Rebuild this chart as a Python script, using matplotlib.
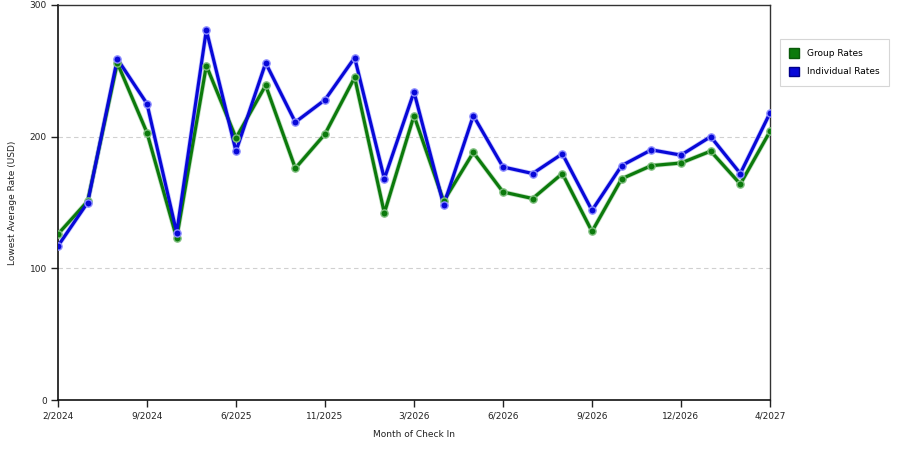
import numpy as np
import matplotlib
matplotlib.use('Agg')
import matplotlib.pyplot as plt
import matplotlib.patches as mpatches

# Lowest average rate per check-in month (USD)
group_rates = [126, 151, 256, 203, 123, 254, 199, 239, 176, 202, 245, 142, 216,
               151, 188, 158, 153, 172, 128, 168, 178, 180, 189, 164, 204]
individual_rates = [117, 150, 259, 225, 127, 281, 189, 256, 211, 228, 260, 168, 234,
                    148, 216, 177, 172, 187, 144, 178, 190, 186, 200, 172, 218]
tick_labels = ['2/2024', '9/2024', '6/2025', '11/2025', '3/2026',
               '6/2026', '9/2026', '12/2026', '4/2027']
tick_step = 3

plt.rcParams['font.family'] = ['DejaVu Sans']

fig = plt.figure(figsize=(9, 4.5), dpi=100)
ax = fig.add_axes([58 / 900, 50 / 450, 712 / 900, 395 / 450])

x = np.arange(len(group_rates))
green = '#0c7a0c'
blue = '#0808d8'

# lines drawn with a soft halo like the original renderer
for vals, col, halo in [(group_rates, green, '#7fbf7f'), (individual_rates, blue, '#8c8cff')]:
    ax.plot(x, vals, color=halo, linewidth=3.4, alpha=0.5, zorder=2, solid_capstyle='round')
    ax.plot(x, vals, color=col, linewidth=2.3, zorder=3, solid_joinstyle='round')
    ax.plot(x, vals, linestyle='none', marker='o', markersize=5.2,
            markerfacecolor=col, markeredgecolor=halo, markeredgewidth=1.0, zorder=4)

ax.set_xlim(0, len(group_rates) - 1)
ax.set_ylim(0, 300)
ax.set_yticks([0, 100, 200, 300])
ax.set_xticks(x[::tick_step])
ax.set_xticklabels(tick_labels)

for yv in [100, 200]:
    ax.axhline(yv, color='#d0d0d0', linewidth=0.8, linestyle=(0, (4, 3)), zorder=1)

ax.tick_params(axis='both', direction='out', length=5, width=1, labelsize=6.5, colors='#222222', pad=3)
for s in ['left', 'bottom']:
    ax.spines[s].set_color('#111111')
    ax.spines[s].set_linewidth(1.2)
for s in ['top', 'right']:
    ax.spines[s].set_color('#333333')
    ax.spines[s].set_linewidth(1.0)

ax.set_xlabel('Month of Check In', fontsize=6.5, color='#222222', labelpad=7)
ax.set_ylabel('Lowest Average Rate (USD)', fontsize=6.5, color='#222222', labelpad=9)

handles = [mpatches.Patch(facecolor=green, edgecolor='#0a5a0a', label='Group Rates'),
           mpatches.Patch(facecolor=blue, edgecolor='#00008a', label='Individual Rates')]
leg = fig.legend(handles=handles, loc='upper left', bbox_to_anchor=(780 / 900, 1 - 39 / 450),
                 borderaxespad=0, fontsize=6.5, frameon=True, fancybox=False, edgecolor='#cccccc',
                 handlelength=1.1, handleheight=1.3, handletextpad=0.9,
                 borderpad=1.0, labelspacing=0.95)
leg.get_frame().set_linewidth(0.8)

fig.savefig('out.png', dpi=100)
plt.close(fig)
